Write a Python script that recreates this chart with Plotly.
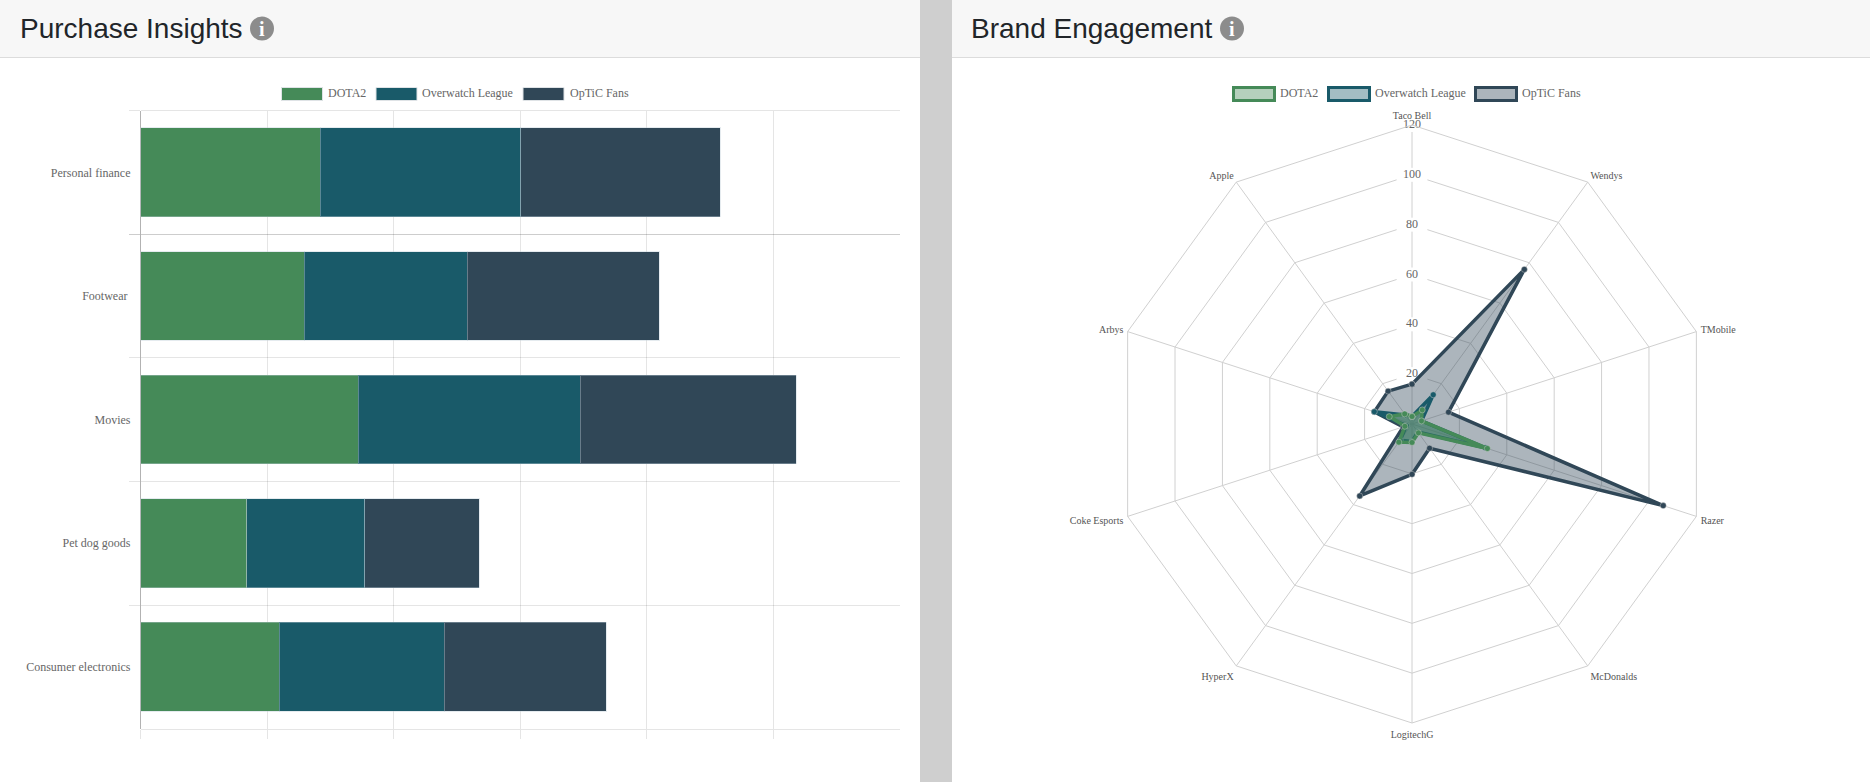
import plotly.graph_objects as go

W, H = 1870, 782

# ---------- data ----------
bar_categories = ["Personal finance", "Footwear\u00a0", "Movies", "Pet dog goods", "Consumer electronics"]
bar_dota2 = [28.4, 25.9, 34.4, 16.8, 21.9]
bar_overwatch = [31.7, 25.7, 35.1, 18.6, 26.1]
bar_optic = [31.5, 30.4, 34.1, 18.1, 25.6]

radar_brands = ["Taco Bell", "Wendys", "TMobile", "Razer", "McDonalds",
                "LogitechG", "HyperX", "Coke Esports", "Arbys", "Apple"]
radar_dota2 = [3, 7, 4, 31.8, 4.4, 7.4, 9, 3, 9.6, 5]
radar_overwatch = [3, 14.5, 4, 31, 4, 7, 8, 2.3, 15.9, 4.5]
radar_optic = [16, 76.7, 15.4, 106, 12, 20.2, 35.7, 3.7, 15.9, 16.3]
radial_ticks = [20, 40, 60, 80, 100, 120]

series_names = ["DOTA2", "Overwatch League", "OpTiC Fans"]
series_colors = ["#458a58", "#195a69", "#304757"]
series_fills = ["rgba(69,138,88,0.4)", "rgba(25,90,105,0.4)", "rgba(48,71,87,0.4)"]

SERIF = "Liberation Serif"
SANS = "Liberation Sans"
GRID = "rgba(0,0,0,0.1)"
TEXT = "#666666"


def px(x):
    return x / W


def py(y):
    return 1 - y / H


fig = go.Figure()

# ---------- bars ----------
for name, vals, col in zip(series_names, [bar_dota2, bar_overwatch, bar_optic], series_colors):
    fig.add_trace(go.Bar(
        y=bar_categories, x=vals, name=name, orientation="h",
        marker=dict(color=col, line=dict(color="rgba(190,205,215,0.4)", width=1)),
        showlegend=False,
    ))

# ---------- radar ----------
fig.add_trace(go.Scatterpolar(
    r=radial_ticks, theta=[radar_brands[0]] * len(radial_ticks),
    text=[str(v) for v in radial_ticks], mode="markers+text",
    textposition="middle center",
    textfont=dict(family=SERIF, size=12, color=TEXT),
    marker=dict(symbol="line-ew", size=22, color="white", line=dict(color="white", width=14)),
    showlegend=False, hoverinfo="skip",
))
for name, vals, col, fill in reversed(list(zip(series_names, [radar_dota2, radar_overwatch, radar_optic],
                                               series_colors, series_fills))):
    fig.add_trace(go.Scatterpolar(
        r=vals + vals[:1], theta=radar_brands + radar_brands[:1],
        name=name, mode="lines+markers", fill="toself", fillcolor=fill,
        line=dict(color=col, width=3.5),
        marker=dict(size=6, color=col, line=dict(color="rgba(205,205,205,0.45)", width=1)),
        showlegend=False,
    ))

# ---------- page furniture ----------
P = dict(xref="paper", yref="paper")
shapes = [
    dict(type="rect", x0=px(920), x1=px(952), y0=0, y1=1, fillcolor="#cfcfcf", line_width=0, layer="below", **P),
    dict(type="rect", x0=0, x1=px(920), y0=py(57), y1=1, fillcolor="#f7f7f7", line_width=0, layer="below", **P),
    dict(type="rect", x0=px(952), x1=1, y0=py(57), y1=1, fillcolor="#f7f7f7", line_width=0, layer="below", **P),
    dict(type="line", x0=0, x1=px(920), y0=py(57.5), y1=py(57.5), line=dict(color="#dcdcdc", width=1), **P),
    dict(type="line", x0=px(952), x1=1, y0=py(57.5), y1=py(57.5), line=dict(color="#dcdcdc", width=1), **P),
]
annotations = []


def text(x, y, s, size, color, family, anchor="left"):
    annotations.append(dict(x=px(x), y=py(y), xref="paper", yref="paper", text=s, showarrow=False,
                            xanchor=anchor, yanchor="middle", borderpad=0, borderwidth=0,
                            font=dict(family=family, size=size, color=color)))


for title, tx, ix in [("Purchase Insights", 19.5, 262), ("Brand Engagement", 970.5, 1232)]:
    text(tx, 28.5, title, 28, "#212529", SANS)
    shapes.append(dict(type="circle", x0=px(ix - 12), x1=px(ix + 12), y0=py(40.5), y1=py(16.5),
                       fillcolor="#8c8c8c", line_width=0, **P))
    text(ix, 28.5, "<b>i</b>", 20, "white", SERIF, anchor="center")

# legends
bar_leg = [(281.5, 328), (376, 422), (523, 569.5)]
for (sx, tx), name, col in zip(bar_leg, series_names, series_colors):
    shapes.append(dict(type="rect", x0=px(sx), x1=px(sx + 41), y0=py(100.5), y1=py(87.5),
                       fillcolor=col, line=dict(color="#dfe3e6", width=1), **P))
    text(tx, 93.5, name, 12, TEXT, SERIF)
rad_leg = [(1233.5, 1280), (1328.5, 1374.5), (1475.5, 1521.5)]
for (sx, tx), name, col, fill in zip(rad_leg, series_names, series_colors, series_fills):
    shapes.append(dict(type="rect", x0=px(sx), x1=px(sx + 41), y0=py(100.5), y1=py(87.5),
                       fillcolor=fill, line=dict(color=col, width=3), **P))
    text(tx, 93.5, name, 12, TEXT, SERIF)

cx, cy, R = 1412, 424, 299
fig.update_layout(
    width=W, height=H, margin=dict(l=0, r=0, t=0, b=0),
    paper_bgcolor="white", plot_bgcolor="rgba(0,0,0,0)",
    barmode="stack", bargap=0.282, showlegend=False,
    font=dict(family=SERIF, size=12, color=TEXT),
    shapes=shapes, annotations=annotations,
    xaxis=dict(
        domain=[px(140.5), px(900)], range=[0, 120], tickvals=[0, 20, 40, 60, 80, 100],
        showticklabels=False, showgrid=True, gridcolor=GRID, gridwidth=1,
        ticks="outside", ticklen=9, tickcolor=GRID, zeroline=True, zerolinecolor="rgba(0,0,0,0.3)",
        zerolinewidth=1, showline=True, linecolor=GRID, linewidth=1, mirror=True,
    ),
    yaxis=dict(
        domain=[py(728.7), py(110.5)], type="category", categoryorder="array",
        categoryarray=bar_categories, range=[4.5, -0.5], tickson="boundaries",
        showgrid=True, gridcolor=GRID, gridwidth=1, ticks="outside", ticklen=11, tickcolor=GRID,
        tickfont=dict(family=SERIF, size=12, color=TEXT), ticklabelstandoff=9,
        zeroline=False, showline=False,
    ),
    polar=dict(
        domain=dict(x=[px(cx - R), px(cx + R)], y=[py(cy + R), py(cy - R)]),
        bgcolor="rgba(0,0,0,0)", gridshape="linear",
        angularaxis=dict(
            direction="clockwise", rotation=90, categoryorder="array", categoryarray=radar_brands,
            gridcolor="#d0d0d0", linecolor="#d0d0d0", linewidth=1, ticks="outside", ticklen=2,
            tickcolor="rgba(0,0,0,0)",
            tickfont=dict(family=SERIF, size=10, color="#555555"),
        ),
        radialaxis=dict(
            range=[0, 120], tickvals=radial_ticks, showticklabels=False, ticks="",
            gridcolor="#d0d0d0", showline=False, angle=90,
        ),
    ),
)

fig.write_html("out.html", config=dict(displayModeBar=False),
               post_script="document.body.style.margin='0';document.body.style.overflow='hidden';")
